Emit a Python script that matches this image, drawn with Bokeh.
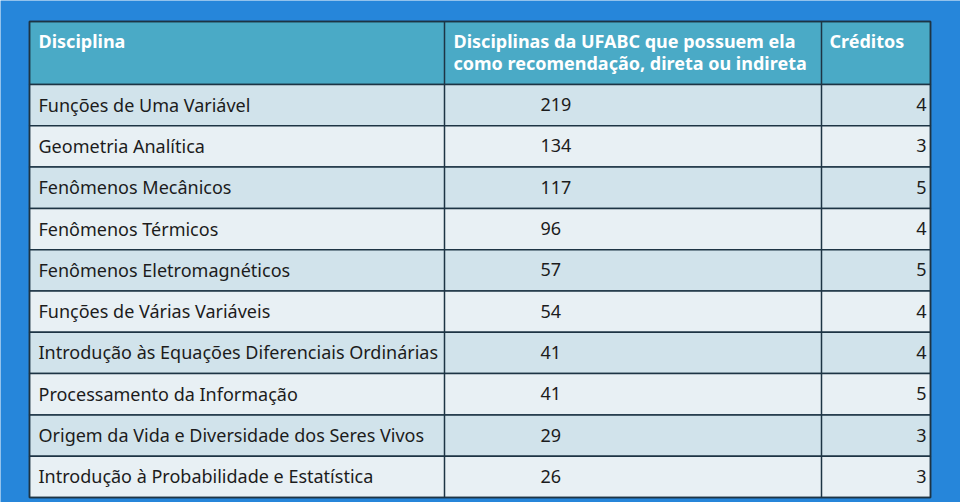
from bokeh.plotting import figure
from bokeh.models import Range1d, ColumnDataSource
from bokeh.core.properties import value
from bokeh.embed import file_html
from bokeh.resources import INLINE

headers = ["Disciplina",
           "Disciplinas da UFABC que possuem ela\ncomo recomendação, direta ou indireta",
           "Créditos"]
disciplinas = [
    "Funções de Uma Variável",
    "Geometria Analítica",
    "Fenômenos Mecânicos",
    "Fenômenos Térmicos",
    "Fenômenos Eletromagnéticos",
    "Funções de Várias Variáveis",
    "Introdução às Equações Diferenciais Ordinárias",
    "Processamento da Informação",
    "Origem da Vida e Diversidade dos Seres Vivos",
    "Introdução à Probabilidade e Estatística",
]
recomendacoes = [219, 134, 117, 96, 57, 54, 41, 41, 29, 26]
creditos = [4, 3, 5, 4, 5, 4, 4, 5, 3, 3]

BG = "#2686da"
HEAD = "#4aaac6"
ROW_A = "#d1e3eb"
ROW_B = "#e8f0f4"
BORDER = "#1d3444"
FONT = "Noto Sans"
FS = "18px"

W, H = 960, 502
p = figure(width=W, height=H, output_backend="svg", toolbar_location=None,
           x_range=Range1d(0, W), y_range=Range1d(H, 0),
           min_border=0, outline_line_color=None)
p.axis.visible = False
p.grid.visible = False
p.background_fill_color = BG
p.border_fill_color = BG

left, c1, c2, right = 29, 444, 821, 930
top, head_bot, bottom = 21, 84, 497
row_h = (bottom - head_bot) / len(disciplinas)

# header
p.quad(left=[left], right=[right], top=[top], bottom=[head_bot],
       fill_color=HEAD, line_color=BORDER, line_width=1.5)

n = len(disciplinas)
tops = [head_bot + i * row_h for i in range(n)]
bots = [t + row_h for t in tops]
cols = [ROW_A if i % 2 == 0 else ROW_B for i in range(n)]
src = ColumnDataSource(dict(top=tops, bottom=bots, color=cols,
                            name=disciplinas,
                            rec=[str(v) for v in recomendacoes],
                            cred=[str(v) for v in creditos],
                            mid=[(t + b) / 2 - 0.5 for t, b in zip(tops, bots)]))
p.quad(left=left, right=right, top="top", bottom="bottom", fill_color="color",
       line_color=BORDER, line_width=1.5, source=src)

# vertical column lines and outer frame
p.segment(x0=[c1, c2], x1=[c1, c2], y0=[top, top], y1=[bottom, bottom],
          line_color=BORDER, line_width=1.5)
p.quad(left=[left], right=[right], top=[top], bottom=[bottom],
       fill_color=None, line_color=BORDER, line_width=1.5)

# header texts (one glyph per line)
hx, hy, ht = [], [], []
for x, h in zip([38, 453, 829], headers):
    for j, line in enumerate(h.split("\n")):
        hx.append(x)
        hy.append(40.5 + 22 * j)
        ht.append(line)
p.text(x=hx, y=hy, text=ht,
       text_font=value(FONT), text_font_style="bold", text_font_size=FS,
       text_color="white", text_baseline="middle")

# body
p.text(x=38, y="mid", text="name", source=src, text_font=value(FONT),
       text_font_size=FS, text_color="#1c1c1c", text_baseline="middle")
p.text(x=540, y="mid", text="rec", source=src, text_font=value(FONT),
       text_font_size=FS, text_color="#1c1c1c", text_baseline="middle")
p.text(x=926, y="mid", text="cred", source=src, text_font=value(FONT),
       text_font_size=FS, text_color="#1c1c1c", text_baseline="middle",
       text_align="right")

html = file_html(p, INLINE)
open("out.html", "w").write(html)
